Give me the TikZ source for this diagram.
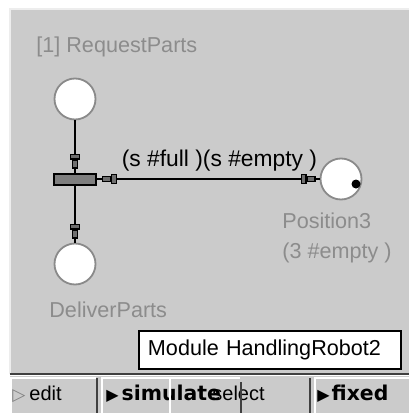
\documentclass[tikz,border=0pt]{standalone}
\usepackage{fontspec}
\setmainfont{Liberation Sans}
\newfontfamily\symfont{DejaVu Sans}
\newfontfamily\btnfont{DejaVu Sans}
\usetikzlibrary{arrows.meta,
                positioning}
\definecolor{panelgray}{HTML}{CBCBCB}
\definecolor{lblgray}{HTML}{8C8C8C}
\definecolor{placegray}{HTML}{8A8A8A}
\definecolor{transgray}{HTML}{7E7E7E}
\definecolor{tipgray}{HTML}{6E6E6E}
\definecolor{edgedark}{HTML}{404040}
\definecolor{edgelight}{HTML}{EDEDED}
\tikzset{
        myhead/.tip={Rectangle[length=3pt,width=5pt,line width=0.7pt,fill=tipgray]
                     Rectangle[length=4.5pt,width=3pt,line width=0.7pt,fill=tipgray]},
        place/.style={circle, draw=placegray, line width=0.9pt, fill=white,
                      minimum size=20.5pt, inner sep=0pt},
        trans/.style={rectangle, draw=black, line width=1pt, fill=transgray,
                      minimum width=21pt, minimum height=5.5pt, inner sep=0pt},
        token/.style={circle, fill=black, minimum size=4.5pt, inner sep=0pt},
        lbl/.style={anchor=base west, inner sep=0pt, text=lblgray,
                    font=\fontsize{10.8}{13}\selectfont},
        arclbl/.style={anchor=base, inner sep=0pt, yshift=6.5pt,
                       font=\fontsize{11.4}{13}\selectfont},
        modbox/.style={draw=black, line width=1pt, fill=white, minimum width=131pt,
                       minimum height=19pt, text width=122pt, inner xsep=4.5pt,
                       align=left, font=\fontsize{10.8}{13}\selectfont},
        btn/.style={anchor=base west, inner sep=0pt, font=\fontsize{10}{12}\selectfont},
        btnb/.style={btn, font=\btnfont\bfseries\fontsize{10.2}{12}\selectfont},
        myarrow/.style={line width=1pt, postaction={draw, shorten >=2pt, -{myhead}}},
        mydarrow/.style={line width=1pt,
                         postaction={draw, shorten >=2pt, shorten <=2.5pt, {myhead}-{myhead}}},
 }
\begin{document}
\begin{tikzpicture}[x=0.5pt, y=-0.5pt]
    \useasboundingbox (0,0) rectangle (409,413);
    \fill[white] (0,0) rectangle (409,413);
    \fill[panelgray] (10,9) rectangle (409,374);
    \draw[edgelight, line width=1pt] (10,374) -- (10,9) -- (409,9);
    \fill[panelgray] (10,376) rectangle (409,413);
    \draw[edgedark, line width=1.2pt] (10,374) -- (409,374);

    \node[lbl] (requestlbl) at (36,52) {[1] RequestParts};
    \node[place] (request) at (75,99) {};
    \node[trans] (t) at (75,179) {};
    \node[place] (deliver) at (75,264) {};
    \node[lbl] (deliverlbl) at (49,317) {DeliverParts};
    \node[place] (pos3) at (341,179) {};
    \node[token] (tok) at (356,184) {};
    \node[lbl] (pos3lbl) at (282,228) {Position3};
    \node[lbl] (pos3mark) at (282,258) {(3 \#empty )};
    \node[modbox] (module) at (270,350) {Module HandlingRobot2};

    \draw[myarrow] (request) -- (t);
    \draw[myarrow] (t) -- (deliver);
    \draw[mydarrow] (t) -- node[arclbl, pos=0.55] {(s \#full )(s \#empty )} (pos3);

    \node[btn] (editbtn) at (12,400) {{\symfont\color{gray}\fontsize{8.5}{8}\selectfont ▷}\hspace{2pt}edit};
    \node[btnb] (simbtn) at (106,400) {{\symfont\fontsize{8}{8}\selectfont ▶}\hspace{1.5pt}simulate};
    \node[btn] (selbtn) at (212,400) {select};
    \node[btnb] (fixbtn) at (317,400) {{\symfont\fontsize{8}{8}\selectfont ▶}\hspace{1pt}fixed};

    \draw[white, line width=1pt] (11,413) -- (11,378) -- (96,378);
    \draw[edgedark, line width=1pt] (97,378) -- (97,413);
    \draw[white, line width=1pt] (102,413) -- (102,378) -- (240,378);
    \draw[white, line width=1pt] (170,413) -- (170,378);
    \draw[edgedark, line width=1pt] (241,382) -- (241,413);
    \draw[edgedark, line width=1pt] (310,378) -- (310,413);
    \draw[white, line width=1pt] (315,413) -- (315,378) -- (409,378);
\end{tikzpicture}
\end{document}
